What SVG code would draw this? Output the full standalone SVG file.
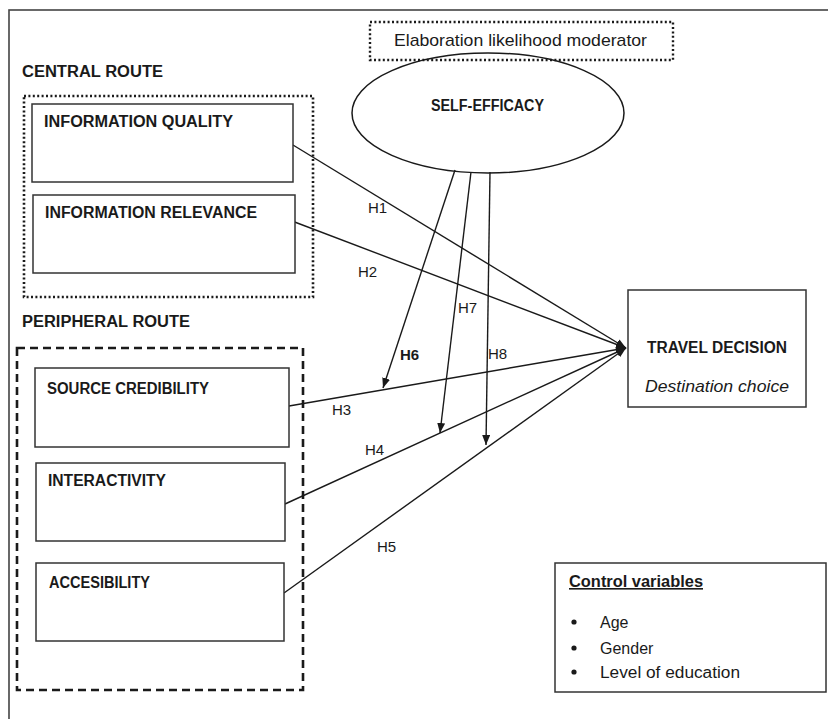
<svg xmlns="http://www.w3.org/2000/svg" width="828" height="719" viewBox="0 0 828 719">
<style>
  text { font-family: "Liberation Sans", Arial, sans-serif; fill: #1a1a1a; }
  .title { font-size: 16px; font-weight: bold; }
  .lbl { font-size: 15px; }
  .box { fill: #fff; stroke: #333; stroke-width: 1.5; }
  .conn { fill: none; stroke: #1a1a1a; stroke-width: 1.4; }
</style>
<defs>
  <marker id="arr" markerUnits="userSpaceOnUse" markerWidth="10" markerHeight="8" refX="10" refY="4" orient="auto">
    <path d="M0,0 L10,4 L0,8 z" fill="#1a1a1a"/>
  </marker>
</defs>
<rect width="828" height="719" fill="#fff"/>
<rect x="9" y="10" width="840" height="740" fill="none" stroke="#444" stroke-width="1.6"/>

<g id="central-route">
  <text x="22" y="77" class="title" textLength="141" lengthAdjust="spacingAndGlyphs">CENTRAL ROUTE</text>
  <rect x="24" y="96" width="289" height="201" fill="none" stroke="#1a1a1a" stroke-width="2.6" stroke-dasharray="2,2.4"/>
</g>
<g id="peripheral-route">
  <text x="22" y="327" class="title" textLength="168" lengthAdjust="spacingAndGlyphs">PERIPHERAL ROUTE</text>
  <rect x="17" y="348" width="286" height="342" fill="none" stroke="#1a1a1a" stroke-width="2.6" stroke-dasharray="8,5"/>
</g>

<g id="connectors">
  <line class="conn" x1="293" y1="145" x2="626" y2="348" marker-end="url(#arr)"/>
  <line class="conn" x1="292" y1="221" x2="626" y2="348" marker-end="url(#arr)"/>
  <line class="conn" x1="289" y1="406" x2="626" y2="348" marker-end="url(#arr)"/>
  <line class="conn" x1="285" y1="504" x2="626" y2="348" marker-end="url(#arr)"/>
  <line class="conn" x1="284" y1="593" x2="626" y2="348" marker-end="url(#arr)"/>
  <line class="conn" x1="455" y1="170" x2="383" y2="388" marker-end="url(#arr)"/>
  <line class="conn" x1="471" y1="172" x2="440" y2="433" marker-end="url(#arr)"/>
  <line class="conn" x1="490" y1="172" x2="486" y2="445" marker-end="url(#arr)"/>
  <text x="368" y="213" class="lbl">H1</text>
  <text x="358" y="277" class="lbl">H2</text>
  <text x="332" y="415" class="lbl">H3</text>
  <text x="365" y="455" class="lbl">H4</text>
  <text x="377" y="552" class="lbl">H5</text>
  <text x="400" y="360" class="lbl" font-weight="bold">H6</text>
  <text x="458" y="313" class="lbl">H7</text>
  <text x="488" y="359" class="lbl">H8</text>
</g>

<g id="moderator-label">
  <rect x="370" y="22" width="303" height="38" fill="none" stroke="#1a1a1a" stroke-width="2.4" stroke-dasharray="2,2.4"/>
  <text x="394" y="46" font-size="17" textLength="253" lengthAdjust="spacingAndGlyphs">Elaboration likelihood moderator</text>
</g>

<g id="self-efficacy">
  <ellipse cx="488" cy="113" rx="136" ry="60" fill="none" stroke="#1a1a1a" stroke-width="1.5"/>
  <text x="431" y="111" class="title" font-size="15" textLength="113" lengthAdjust="spacingAndGlyphs">SELF-EFFICACY</text>
</g>

<g id="information-quality">
  <rect x="32" y="104" width="261" height="78" class="box"/>
  <text x="44" y="127" class="title" textLength="189" lengthAdjust="spacingAndGlyphs">INFORMATION QUALITY</text>
</g>
<g id="information-relevance">
  <rect x="33" y="195" width="262" height="78" class="box"/>
  <text x="45" y="218" class="title" textLength="212" lengthAdjust="spacingAndGlyphs">INFORMATION RELEVANCE</text>
</g>
<g id="source-credibility">
  <rect x="35" y="368" width="254" height="79" class="box"/>
  <text x="47" y="394" class="title" textLength="162" lengthAdjust="spacingAndGlyphs">SOURCE CREDIBILITY</text>
</g>
<g id="interactivity">
  <rect x="36" y="463" width="249" height="78" class="box"/>
  <text x="48" y="486" class="title" textLength="118" lengthAdjust="spacingAndGlyphs">INTERACTIVITY</text>
</g>
<g id="accesibility">
  <rect x="36" y="563" width="248" height="78" class="box"/>
  <text x="49" y="588" class="title" textLength="101" lengthAdjust="spacingAndGlyphs">ACCESIBILITY</text>
</g>

<g id="travel-decision">
  <rect x="628" y="290" width="178" height="117" class="box"/>
  <text x="647" y="353" class="title" textLength="140" lengthAdjust="spacingAndGlyphs">TRAVEL DECISION</text>
  <text x="645" y="392" font-size="17" font-style="italic" textLength="144" lengthAdjust="spacingAndGlyphs">Destination choice</text>
</g>

<g id="control-variables">
  <rect x="555" y="563" width="271" height="129" class="box"/>
  <text x="569" y="587" font-size="16" font-weight="bold" text-decoration="underline" textLength="134" lengthAdjust="spacingAndGlyphs">Control variables</text>
  <circle cx="574" cy="622" r="2.6" fill="#1a1a1a"/>
  <circle cx="574" cy="648" r="2.6" fill="#1a1a1a"/>
  <circle cx="574" cy="672" r="2.6" fill="#1a1a1a"/>
  <text x="600" y="628" font-size="16">Age</text>
  <text x="600" y="654" font-size="16">Gender</text>
  <text x="600" y="678" font-size="16" textLength="140" lengthAdjust="spacingAndGlyphs">Level of education</text>
</g>
</svg>
